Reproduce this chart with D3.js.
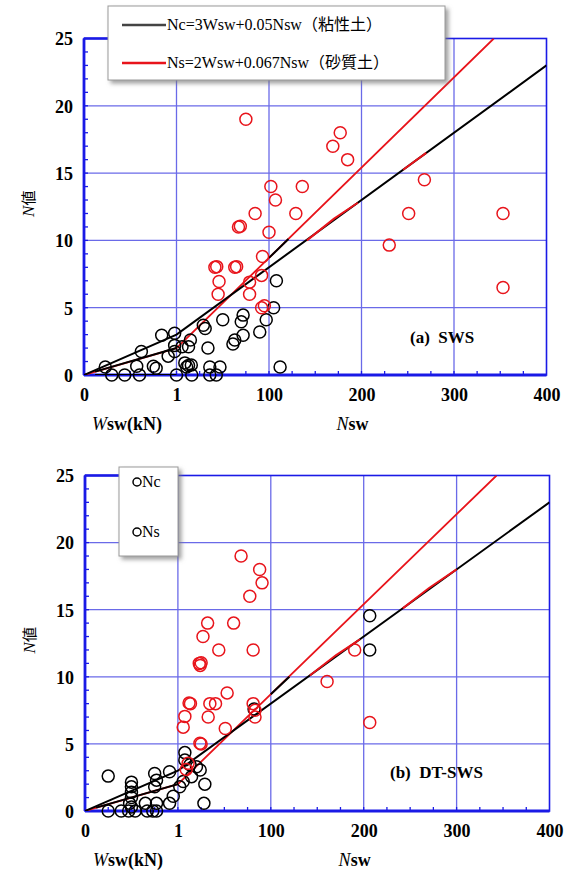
<!DOCTYPE html>
<html>
<head>
<meta charset="utf-8">
<script src="https://cdn.jsdelivr.net/npm/d3@7"></script>
<style>
  body { margin: 0; background: #fff; }
  svg { display: block; }
  .serif { font-family: "Liberation Serif", "Times New Roman", "Noto Sans CJK JP", serif; }
</style>
</head>
<body>
<svg id="chart" width="568" height="883"></svg>
<script>
// Horizontal axis: 0–1 kN of Wsw, then Nsw 0–400 (position = 100*Wsw + Nsw)
const xTickValues = [0, 100, 200, 300, 400, 500];
const xTickLabels = ["0", "1", "100", "200", "300", "400"];
const yTickValues = [0, 5, 10, 15, 20, 25];

// ---- (a) SWS ----
// clayey soil, loaded by weight only: [Wsw (kN), N]
const swsClayWsw = [
  [0.30, 0], [0.44, 0], [0.60, 0], [1.00, 0],
  [0.23, 0.6], [0.57, 0.65], [0.75, 0.65], [0.78, 0.5],
  [0.62, 1.75], [0.84, 2.95], [0.98, 3.1], [0.91, 1.4], [0.98, 1.75], [0.98, 2.2]
];
// clayey soil with half-turns: [Nsw, N]
const swsClayNsw = [
  [6, 2.1], [13, 2.1], [15, 2.6], [11, 0.6], [13, 0.7], [16, 0.75], [16.5, 0],
  [34, 2.0], [29, 3.7], [31, 3.45], [50, 4.1], [47, 0.6], [36, 0], [43, 0],
  [72, 4.45], [70, 3.95], [72, 2.95], [63, 2.6], [61, 2.3], [90, 3.2], [97, 4.1],
  [105, 5.0], [108, 7.0], [112, 0.6], [9, 0.9], [36, 0.6]
];
// sandy soil: [Nsw, N]
const swsSandNsw = [
  [75, 19], [177, 18], [169, 17], [185, 16], [268, 14.5], [102, 14], [136, 14],
  [107, 13], [85, 12], [129, 12], [251, 12], [353, 12], [67, 11], [69, 11.05],
  [100, 10.6], [230, 9.65], [353, 6.5], [93, 8.8], [41.5, 8], [43.5, 8.05],
  [63, 8], [65, 8.05], [46, 6.95], [92, 7.4], [79, 6.9], [45, 6.0], [79, 6.0],
  [92, 5.0], [95, 5.15]
];
// relation lines: [Wsw, Nsw, N]
const swsSandLine = [[0, 0, 0], [1, 0, 2], [1, 343, 25]];
const swsClayLine = [[0, 0, 0], [1, 0, 3], [1, 400, 23]];
const swsClayExtra = [
  [[0.12, 0, 0.25], [1, 0, 2]],
  [[0.12, 0, 0], [1, 0, 0]],
  [[1, 100, 8.7], [1, 121, 10.1]]
];
const swsSandExtra = [
  [[1, 141, 10.0], [1, 170, 11.6], [1, 196, 12.8]],
  [[1, 245, 15.25], [1, 270, 16.5]]
];

// ---- (b) DT-SWS ----
const dtClayWsw = [
  [0.25, 2.6], [0.50, 2.15], [0.50, 1.8], [0.50, 1.4], [0.50, 1.0],
  [0.75, 2.8], [0.77, 2.3], [0.75, 1.8], [0.91, 2.93], [0.91, 0.57], [0.95, 1.1],
  [0.25, 0], [0.39, 0], [0.47, 0], [0.54, 0], [0.67, 0], [0.73, 0], [0.77, 0],
  [0.48, 0.57], [0.65, 0.57], [0.77, 0.57], [0.50, 0.3]
];
const dtClayNsw = [
  [2, 1.8], [7.5, 4.35], [7.5, 3.8], [13, 3.45], [14.7, 2.56], [20, 3.3],
  [24, 3.05], [29, 2.0], [28, 0.57], [5.7, 2.2], [82, 7.6],
  [206.5, 14.55], [206.5, 12.0]
];
const dtSandNsw = [
  [68, 19], [88, 18], [90.6, 17], [77.4, 16], [32, 14], [60, 14], [27, 13],
  [44, 12], [81, 12], [23, 11], [25, 11.05], [24, 10.85], [53, 8.8],
  [12, 8.05], [13.5, 8.0], [34.4, 8], [40.5, 8], [7.5, 7.05], [32.6, 7.0],
  [5.7, 6.25], [51, 6.15], [23.7, 5.05], [25, 5.0], [81, 8.0], [83, 7.5],
  [83, 7.0], [11, 3.55], [9, 3.1], [160.6, 9.65], [190.3, 12], [206.5, 6.6]
];
const dtSandLine = [[0, 0, 0], [1, 0, 2], [1, 343, 25]];
const dtClayLine = [[0, 0, 0], [1, 0, 3], [1, 400, 23]];
const dtClayExtra = [
  [[0.12, 0, 0.25], [1, 0, 2]],
  [[1, 100, 8.7], [1, 120, 10.0]]
];
const dtSandExtra = [
  [[1, 142, 10.1], [1, 170, 11.6], [1, 196, 12.8]],
  [[1, 242, 15.1], [1, 270, 16.6], [1, 300, 18.0]]
];

const legendLabels = ["Nc=3Wsw+0.05Nsw（粘性土）", "Ns=2Wsw+0.067Nsw（砂質土）"];
const markerLabels = ["Nc", "Ns"];

const RED = "#e8141b";
const BLUE = "#1a1ae6";
const GRID = "#6a6ae8";

const svg = d3.select("#chart");

const defs = svg.append("defs");
const shadow = defs.append("filter").attr("id", "shadow")
  .attr("x", "-10%").attr("y", "-10%").attr("width", "130%").attr("height", "140%");
shadow.append("feDropShadow").attr("dx", 3).attr("dy", 3)
  .attr("stdDeviation", 2).attr("flood-color", "#777").attr("flood-opacity", 0.7);

const pos = (w, nsw) => 100 * w + nsw;

function drawPanel(p) {
  const x = d3.scaleLinear().domain([0, 500]).range([p.left, p.right]);
  const y = d3.scaleLinear().domain([0, 25]).range([p.bottom, p.top]);
  const g = svg.append("g");

  const clipId = "clip" + p.id;
  defs.append("clipPath").attr("id", clipId).append("rect")
    .attr("x", p.left).attr("y", p.top)
    .attr("width", p.right - p.left).attr("height", p.bottom - p.top);

  // grid
  g.append("g").selectAll("line").data(xTickValues.slice(1, -1)).join("line")
    .attr("x1", d => x(d)).attr("x2", d => x(d))
    .attr("y1", p.top).attr("y2", p.bottom)
    .attr("stroke", GRID).attr("stroke-width", 1.3);
  g.append("g").selectAll("line").data(yTickValues.slice(1, -1)).join("line")
    .attr("y1", d => y(d)).attr("y2", d => y(d))
    .attr("x1", p.left).attr("x2", p.right)
    .attr("stroke", GRID).attr("stroke-width", 1.3);

  // frame
  g.append("rect").attr("x", p.left).attr("y", p.top)
    .attr("width", p.right - p.left).attr("height", p.bottom - p.top)
    .attr("fill", "none").attr("stroke", BLUE).attr("stroke-width", 1.6);

  // minor ticks
  g.append("g").selectAll("line").data(d3.range(1, 25)).join("line")
    .attr("x1", p.left).attr("x2", p.left + 4)
    .attr("y1", d => y(d)).attr("y2", d => y(d))
    .attr("stroke", BLUE).attr("stroke-width", 1.3);
  g.append("g").selectAll("line").data(d3.range(25, 500, 25)).join("line")
    .attr("x1", d => x(d)).attr("x2", d => x(d))
    .attr("y1", p.bottom).attr("y2", p.bottom - 4)
    .attr("stroke", BLUE).attr("stroke-width", 1.3);

  // thick axes
  g.append("line").attr("x1", p.left).attr("x2", p.left)
    .attr("y1", p.top).attr("y2", p.bottom)
    .attr("stroke", BLUE).attr("stroke-width", 2.8);
  g.append("line").attr("x1", p.left).attr("x2", p.right)
    .attr("y1", p.bottom).attr("y2", p.bottom)
    .attr("stroke", BLUE).attr("stroke-width", 2.8);
  g.append("line").attr("x1", p.left).attr("x2", p.left + 60)
    .attr("y1", p.top).attr("y2", p.top)
    .attr("stroke", BLUE).attr("stroke-width", 2.6);

  // tick labels via d3 axes
  const xAxis = d3.axisBottom(x).tickValues(xTickValues)
    .tickFormat((d, i) => xTickLabels[i]).tickSize(0).tickPadding(0);
  const xa = g.append("g").attr("transform", `translate(0,${p.bottom + 13})`).call(xAxis);
  xa.attr("font-family", null);
  xa.select(".domain").remove();
  xa.selectAll("text").attr("class", "serif").attr("font-weight", "bold")
    .attr("font-size", 18).attr("fill", "#000").attr("dy", "0.71em");

  const yAxis = d3.axisLeft(y).tickValues(yTickValues).tickSize(0).tickPadding(0);
  const ya = g.append("g").attr("transform", `translate(${p.left - 11},0)`).call(yAxis);
  ya.attr("font-family", null);
  ya.select(".domain").remove();
  ya.selectAll("text").attr("class", "serif").attr("font-weight", "bold")
    .attr("font-size", 18).attr("fill", "#000").attr("dy", "0.35em");

  // axis titles
  const yt = g.append("text").attr("class", "serif").attr("font-size", 17)
    .attr("text-anchor", "middle")
    .attr("transform", `translate(${p.left - 50},${(p.top + p.bottom) / 2 - 3}) rotate(-90)`);
  yt.append("tspan").attr("font-style", "italic").text("N");
  yt.append("tspan").style("font-family", "'Noto Sans CJK JP',sans-serif").attr("font-size", 15).text("値");

  const wt = g.append("text").attr("class", "serif").attr("font-size", 18)
    .attr("font-weight", "bold").attr("x", p.left + 8).attr("y", p.bottom + 55);
  wt.append("tspan").attr("font-style", "italic").attr("font-weight", "normal").text("W");
  wt.append("tspan").text("sw(kN)");
  const nt = g.append("text").attr("class", "serif").attr("font-size", 18)
    .attr("font-weight", "bold").attr("x", x(273)).attr("y", p.bottom + 55);
  nt.append("tspan").attr("font-style", "italic").attr("font-weight", "normal").text("N");
  nt.append("tspan").text("sw");

  // relation lines
  const line = d3.line().x(d => x(pos(d[0], d[1]))).y(d => y(d[2]));
  const lines = g.append("g").attr("clip-path", `url(#${clipId})`).attr("fill", "none");
  lines.append("path").datum(p.sandLine).attr("d", line)
    .attr("stroke", RED).attr("stroke-width", 1.8);
  lines.append("path").datum(p.clayLine).attr("d", line)
    .attr("stroke", "#000").attr("stroke-width", 2);
  p.clayExtra.forEach(seg => lines.append("path").datum(seg).attr("d", line)
    .attr("stroke", "#000").attr("stroke-width", 2));
  p.sandExtra.forEach(seg => lines.append("path").datum(seg).attr("d", line)
    .attr("stroke", RED).attr("stroke-width", 2));

  // points
  const pts = g.append("g").attr("fill", "none").attr("stroke-width", 1.5);
  pts.selectAll("circle.cw").data(p.clayWsw).join("circle").attr("class", "cw")
    .attr("cx", d => x(pos(d[0], 0))).attr("cy", d => y(d[1])).attr("r", 6)
    .attr("stroke", "#000");
  pts.selectAll("circle.cn").data(p.clayNsw).join("circle").attr("class", "cn")
    .attr("cx", d => x(pos(1, d[0]))).attr("cy", d => y(d[1])).attr("r", 6)
    .attr("stroke", "#000");
  pts.selectAll("circle.sn").data(p.sandNsw).join("circle").attr("class", "sn")
    .attr("cx", d => x(pos(1, d[0]))).attr("cy", d => y(d[1])).attr("r", 6)
    .attr("stroke", RED);

  // panel caption
  g.append("text").attr("class", "serif").attr("font-weight", "bold")
    .attr("font-size", 17).attr("x", p.captionX).attr("y", p.captionY)
    .style("white-space", "pre").text(p.caption);

  return g;
}

drawPanel({
  id: "a", left: 84, right: 546.5, top: 38.5, bottom: 375,
  clayWsw: swsClayWsw, clayNsw: swsClayNsw, sandNsw: swsSandNsw,
  sandLine: swsSandLine, clayLine: swsClayLine,
  clayExtra: swsClayExtra, sandExtra: swsSandExtra,
  caption: "(a)  SWS", captionX: 410, captionY: 343
});
drawPanel({
  id: "b", left: 85, right: 549.5, top: 475.5, bottom: 811,
  clayWsw: dtClayWsw, clayNsw: dtClayNsw, sandNsw: dtSandNsw,
  sandLine: dtSandLine, clayLine: dtClayLine,
  clayExtra: dtClayExtra, sandExtra: dtSandExtra,
  caption: "(b)  DT-SWS", captionX: 390, captionY: 778
});

// legend (a): relation lines
const lg = svg.append("g");
lg.append("rect").attr("x", 108).attr("y", 6).attr("width", 337).attr("height", 74)
  .attr("fill", "#fff").attr("stroke", "#999").attr("stroke-width", 1)
  .attr("filter", "url(#shadow)");
[["#444", 25], [RED, 63]].forEach(([c, yy], i) => {
  lg.append("line").attr("x1", 122).attr("x2", 166).attr("y1", yy).attr("y2", yy)
    .attr("stroke", c).attr("stroke-width", 2.5);
  lg.append("text").attr("class", "serif").attr("x", 167).attr("y", yy + 5)
    .attr("font-size", 16).attr("fill", "#000")
    .text(legendLabels[i]);
});

// legend (b): point markers
const lb = svg.append("g");
lb.append("rect").attr("x", 119).attr("y", 467).attr("width", 59).attr("height", 89)
  .attr("fill", "#fff").attr("stroke", "#999").attr("stroke-width", 1)
  .attr("filter", "url(#shadow)");
[482, 532].forEach((yy, i) => {
  lb.append("circle").attr("cx", 137).attr("cy", yy).attr("r", 4)
    .attr("fill", "none").attr("stroke", "#000").attr("stroke-width", 1.5);
  lb.append("text").attr("class", "serif").attr("x", 142).attr("y", yy + 5)
    .attr("font-size", 16).attr("fill", "#000")
    .text(markerLabels[i]);
});
</script>
</body>
</html>
